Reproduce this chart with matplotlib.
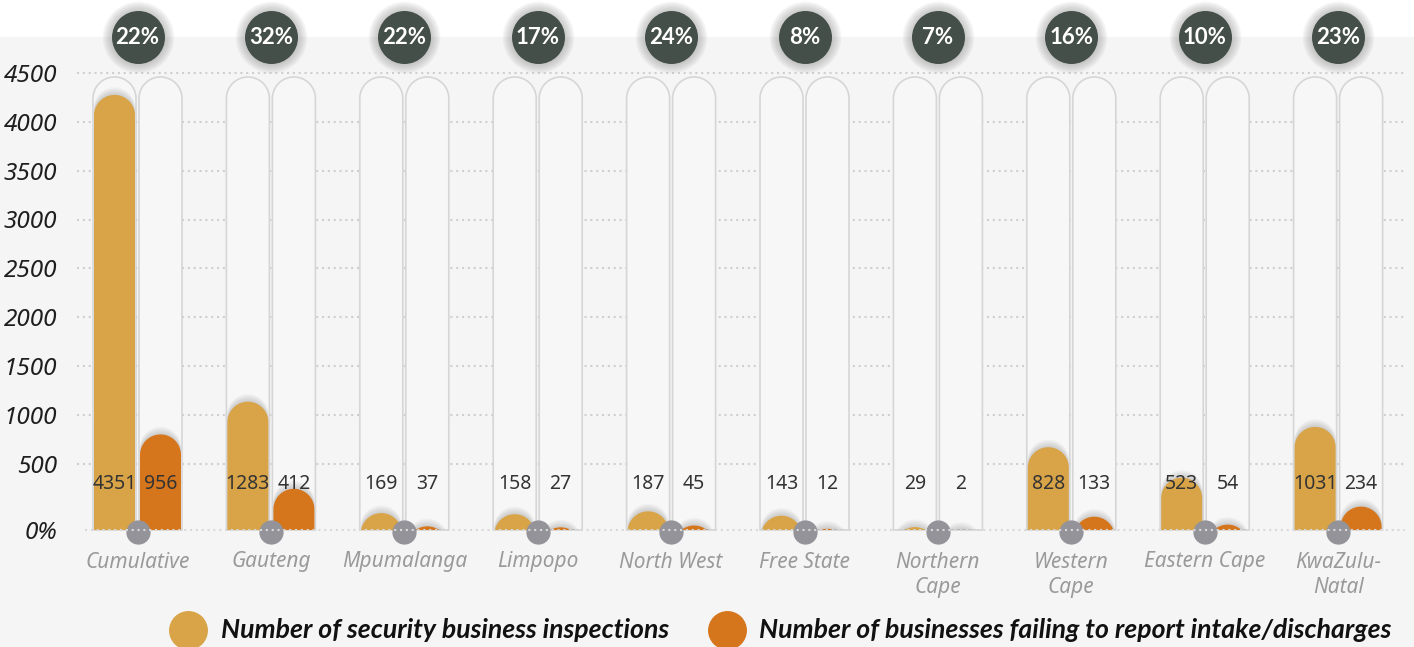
import numpy as np
import matplotlib
matplotlib.use("Agg")
import matplotlib.pyplot as plt
from matplotlib.patches import Polygon, Rectangle

plt.rcParams['font.family'] = ['Noto Sans', 'DejaVu Sans']
BOLD_FAMILY = ['Lato', 'Liberation Sans', 'DejaVu Sans']

# data
categories = ["Cumulative", "Gauteng", "Mpumalanga", "Limpopo", "North West",
              "Free State", "Northern\nCape", "Western\nCape", "Eastern Cape",
              "KwaZulu-\nNatal"]
inspections = [4351, 1283, 169, 158, 187, 143, 29, 828, 523, 1031]
failing = [956, 412, 37, 27, 45, 12, 2, 133, 54, 234]
percent = [22, 32, 22, 17, 24, 8, 7, 16, 10, 23]
yticks = [0, 500, 1000, 1500, 2000, 2500, 3000, 3500, 4000, 4500]
ytick_labels = ["0%"] + [str(v) for v in yticks[1:]]
legend_labels = ["Number of security business inspections",
                 "Number of businesses failing to report intake/discharges"]

GOLD = '#d8a447'
ORANGE = '#d6761c'
DARK = '#454f49'
BG = '#f5f5f5'

W, H = 1414, 647
fig = plt.figure(figsize=(W / 100, H / 100), dpi=100)
fig.patch.set_facecolor('white')
fig.patches.append(Rectangle((0, 0), 1, (H - 37) / H, transform=fig.transFigure,
                             color=BG, zorder=-10))

left_px = 75
ax = fig.add_axes([left_px / W, 0, 1 - left_px / W, 1])
ax.set_facecolor('none')

# pixel layout: group 0 centred at 137.5px, groups 133.4px apart, zero at 530px
x0_px, step_px, zero_px, per_px = 137.5, 133.4, 530, 10
ax.set_xlim((left_px - x0_px) / step_px, (W - x0_px) / step_px)
ax.set_ylim((zero_px - H) * per_px, zero_px * per_px)
sx = 1 / step_px
sy = per_px


def pill(cx, top, w_px):
    rx = w_px / 2 * sx
    ry = w_px / 2 * sy
    c = top - ry
    t = np.linspace(np.pi, 0, 80)
    xs = cx + rx * np.cos(t)
    ys = np.maximum(c + ry * np.sin(t), 0)
    return [(cx - rx, 0)] + list(zip(xs, ys)) + [(cx + rx, 0)]


x = np.arange(len(categories))
off = 23 * sx
pill_top = 4530

# the original's gridlines/labels sit a little higher than the bar scale
grid_pos = [0] + [660 + (v - 500) * 0.978 for v in yticks[1:]]

for g in grid_pos[1:]:
    ax.hlines(g, (77 - x0_px) / step_px, (1405 - x0_px) / step_px,
              colors='#cfcfcf', linewidth=1.5, linestyles=(0, (1, 1.8)), zorder=1)

for i in x:
    for cx, val, col in [(i - off, inspections[i], GOLD), (i + off, failing[i], ORANGE)]:
        bg = Polygon(pill(cx, pill_top, 43), closed=True, facecolor='#f7f7f7',
                     edgecolor='#d6d6d6', linewidth=1.2, zorder=2)
        ax.add_patch(bg)
        # soft shadow above the bar top
        for k in range(1, 8):
            sh = Polygon(pill(cx, val + k * 1.1 * sy, 41), closed=True,
                         facecolor='#3c3c3c', edgecolor='none', alpha=0.03, zorder=2.5)
            ax.add_patch(sh)
            sh.set_clip_path(bg)
        ax.add_patch(Polygon(pill(cx, val, 41), closed=True, facecolor=col,
                             edgecolor='none', zorder=3))
        ax.text(cx, 460, str(val), ha='center', va='center', fontsize=14,
                color='#333333', zorder=6)

# grey markers on the baseline
ax.scatter(x, np.zeros(len(x)) - 20, s=270, color='#939399', zorder=4, clip_on=False)
ax.hlines(0, (85 - x0_px) / step_px, (1405 - x0_px) / step_px,
          colors='#d9d9d9', linewidth=1.5, linestyles=(0, (1, 1.8)), zorder=5)

# percentage badges at the top
ytop = (zero_px - 37) * per_px
for k in range(1, 7):
    ax.scatter(x, np.full(len(x), ytop), s=1456 + k * 200, color='#555555',
               alpha=0.05, zorder=6, clip_on=False, linewidths=0)
ax.scatter(x, np.full(len(x), ytop), s=1456, color=DARK, zorder=7, clip_on=False,
           linewidths=0)
for i in x:
    ax.text(i, ytop, f"{percent[i]}%", ha='center', va='center', fontsize=16,
            fontweight='bold', color='white', zorder=8, family=BOLD_FAMILY)

# category labels
for i in x:
    ax.text(i, -215, categories[i], ha='center', va='top', fontsize=15,
            style='italic', color='#9a9a9a', linespacing=1.3)

ax.set_yticks(grid_pos)
ax.set_yticklabels(ytick_labels, fontsize=17.5, style='italic', color='#1e1e1e')
ax.tick_params(axis='y', length=0, pad=13)
ax.set_xticks([])
for s in ax.spines.values():
    s.set_visible(False)

# legend
for (cxp, col), (txp, lab) in zip([(188, GOLD), (727, ORANGE)],
                                  [(221, legend_labels[0]), (759, legend_labels[1])]):
    fig.add_artist(plt.Line2D([cxp / W], [1 - 630 / H], marker='o', markersize=27,
                              color=col, linestyle='none', transform=fig.transFigure))
    fig.text(txp / W, 1 - 630 / H, lab, ha='left', va='center', fontsize=19.2,
             fontweight='bold', style='italic', color='#111111', family=BOLD_FAMILY)

fig.savefig('out.png', dpi=100, facecolor='white')
